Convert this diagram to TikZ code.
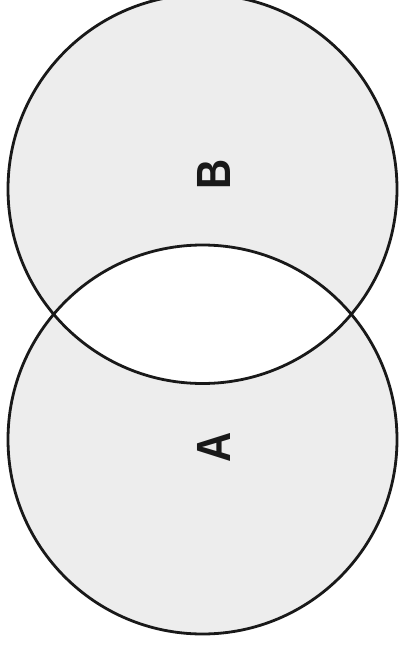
\documentclass[tikz,border=0pt]{standalone}
\usepackage{fontspec}
\setmainfont{Liberation Sans}
\begin{document}
\begin{tikzpicture}[x=1pt,y=-1pt,
  ring/.style={draw=black!90,line width=2.8pt},
  zone/.style={fill=black!7,even odd rule},
  lab/.style={font=\fontsize{48}{48}\selectfont\bfseries,text=black!90,rotate=90,xscale=0.87,inner sep=0pt}]
\useasboundingbox (0,0) rectangle (399,647);
\coordinate (cb) at (202.5,189);
\coordinate (ca) at (202.5,439.5);
\fill[zone] (ca) circle (194.5) (cb) circle (194.5);
\draw[ring] (ca) circle (194.5);
\draw[ring] (cb) circle (194.5);
\node[lab] (lb) at (214,174) {B};
\node[lab] (la) at (214,447.5) {A};
\end{tikzpicture}
\end{document}
